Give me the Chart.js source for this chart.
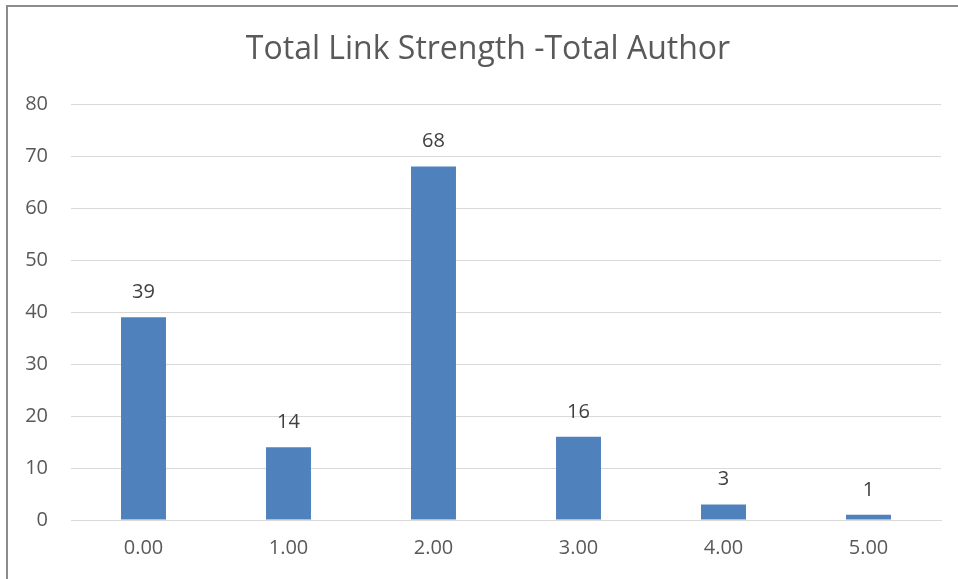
<!DOCTYPE html>
<html>
<head>
<meta charset="utf-8">
<script src="https://cdn.jsdelivr.net/npm/chart.js@4/dist/chart.umd.min.js"></script>
<style>
  html, body { margin: 0; padding: 0; background: #ffffff; }
  #wrap { position: relative; width: 958px; height: 579px; }
  #frame { position: absolute; left: 6px; top: 5px; width: 1000px; height: 700px;
           border-left: 2px solid #8c8c8c; border-top: 2px solid #8c8c8c; box-sizing: border-box; }
  canvas { position: absolute; left: 0; top: 0; }
</style>
</head>
<body>
<div id="wrap">
  <div id="frame"></div>
  <canvas id="chart" width="958" height="579"></canvas>
</div>
<script>
const chartTitle = 'Total Link Strength -Total Author';
const categories = ['0.00', '1.00', '2.00', '3.00', '4.00', '5.00'];
const authorCounts = [39, 14, 68, 16, 3, 1];
const yTicks = [0, 10, 20, 30, 40, 50, 60, 70, 80];

const FONT = "'Open Sans', 'Liberation Sans', sans-serif";

// Chart title and the value printed above each bar
const labelsPlugin = {
  id: 'labels',
  afterDatasetsDraw(chart) {
    const ctx = chart.ctx;
    ctx.save();
    ctx.fillStyle = '#595959';
    ctx.font = '32px ' + FONT;
    ctx.textAlign = 'center';
    ctx.textBaseline = 'middle';
    ctx.fillText(chartTitle, 488, 50);

    ctx.fillStyle = '#404040';
    ctx.font = '20px ' + FONT;
    const meta = chart.getDatasetMeta(0);
    meta.data.forEach((bar, i) => {
      ctx.fillText(String(authorCounts[i]), bar.x, bar.y - 25);
    });
    ctx.restore();
  }
};

new Chart(document.getElementById('chart'), {
  type: 'bar',
  data: {
    labels: categories,
    datasets: [{
      data: authorCounts,
      backgroundColor: '#4f81bd',
      categoryPercentage: 1,
      barPercentage: 0.31
    }]
  },
  options: {
    responsive: false,
    animation: false,
    layout: { padding: { left: 7, right: 17, top: 104, bottom: 0 } },
    plugins: { legend: { display: false }, tooltip: { enabled: false } },
    scales: {
      x: {
        grid: { display: false, drawTicks: false },
        border: { display: true, color: '#d9d9d9', width: 1 },
        ticks: { color: '#595959', font: { family: FONT, size: 20 }, padding: 16 },
        afterFit(s) { s.height = 59; }
      },
      y: {
        min: 0,
        max: 80,
        afterBuildTicks(s) { s.ticks = yTicks.map(v => ({ value: v })); },
        grid: { color: '#d9d9d9', lineWidth: 1, drawTicks: false },
        border: { display: false },
        ticks: { color: '#595959', font: { family: FONT, size: 20 }, padding: 23 },
        afterFit(s) { s.width = 64; }
      }
    }
  },
  plugins: [labelsPlugin]
});
</script>
</body>
</html>
